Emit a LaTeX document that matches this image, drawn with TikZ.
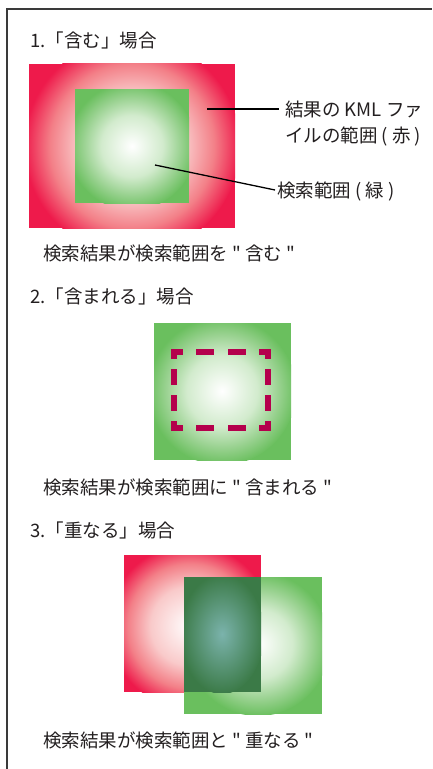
\documentclass[tikz,border=0pt]{standalone}
\usepackage{fontspec}
\setmainfont{Noto Sans CJK JP}[Ligatures=TeXOff]
\definecolor{kmlred}{HTML}{EE1A4B}
\definecolor{srchgreen}{HTML}{6ABF5E}
\definecolor{dashmag}{HTML}{B4004C}
\definecolor{ovdark}{HTML}{3B7A47}
\definecolor{ovlight}{HTML}{7BB3AC}
\definecolor{inktext}{HTML}{231F20}
\definecolor{framegray}{HTML}{3A3A3A}
\definecolor{pinkA}{HTML}{F9CACA}
\definecolor{pinkB}{HTML}{F38088}
\definecolor{greenA}{HTML}{D2EBCD}
\definecolor{greenB}{HTML}{9AD291}
\pgfdeclareradialshading{redglow}{\pgfpointorigin}{color(0bp)=(white); color(12bp)=(pinkA); color(19bp)=(pinkB); color(25bp)=(kmlred); color(50bp)=(kmlred)}
\pgfdeclareradialshading{greenglow}{\pgfpointorigin}{color(0bp)=(white); color(12bp)=(greenA); color(19bp)=(greenB); color(25bp)=(srchgreen); color(50bp)=(srchgreen)}
\pgfdeclareradialshading{ovglow}{\pgfpointorigin}{color(0bp)=(ovlight); color(25bp)=(ovdark); color(50bp)=(ovdark)}
\begin{document}
\begin{tikzpicture}[x=1bp,y=-1bp,
  txt/.style={font=\fontsize{18.5bp}{27bp}\selectfont, text=inktext, inner sep=0pt, anchor=west},
  leader/.style={draw=black, line width=1.3bp},
  dashseg/.style={draw=dashmag, line width=5.5bp, line cap=butt, line join=miter}]
\useasboundingbox (0,0) rectangle (432,769);
\fill[white] (0,0) rectangle (432,769);
\draw[framegray, line width=2bp] (7,769) -- (7,9) -- (432,9);

% ---- Section 1
\node[txt] (t1) at (30,40) {1.「含む」場合};
\begin{scope}
  \clip (29,64) rectangle (235,228);
  \fill[kmlred] (29,64) rectangle (235,228);
  \shade[shading=redglow] (132,146) circle (108);
\end{scope}
\begin{scope}
  \clip (75,89) rectangle (189,203);
  \fill[srchgreen] (75,89) rectangle (189,203);
  \shade[shading=greenglow] (132,146) circle (64);
\end{scope}
\node[txt] (l1a) at (285,109) {結果の KML ファ};
\node[txt] (l1b) at (285,136) {イルの範囲 ( 赤 )};
\node[txt] (l2) at (277,191) {検索範囲 ( 緑 )};
\coordinate (p1) at (207,109);
\coordinate (q1) at (279,109);
\coordinate (p2) at (155,165);
\coordinate (q2) at (275,190);
\draw[leader] (p1) -- (q1);
\draw[leader] (p2) -- (q2);
\node[txt] (c1) at (43,253) {検索結果が検索範囲を " 含む "};

% ---- Section 2
\node[txt] (t2) at (30,296) {2.「含まれる」場合};
\begin{scope}
  \clip (154,323) rectangle (291,460);
  \fill[srchgreen] (154,323) rectangle (291,460);
  \shade[shading=greenglow] (222,391) circle (74);
\end{scope}
\draw[dashseg] (174,359) -- (174,352) -- (183,352);
\draw[dashseg] (196,352) -- (214,352);
\draw[dashseg] (228,352) -- (246,352);
\draw[dashseg] (259,352) -- (268,352) -- (268,359);
\draw[dashseg] (174,369) -- (174,385);
\draw[dashseg] (174,395) -- (174,411);
\draw[dashseg] (268,369) -- (268,385);
\draw[dashseg] (268,395) -- (268,411);
\draw[dashseg] (174,421) -- (174,428) -- (183,428);
\draw[dashseg] (196,428) -- (214,428);
\draw[dashseg] (228,428) -- (246,428);
\draw[dashseg] (259,428) -- (268,428) -- (268,421);
\node[txt] (c2) at (43,487) {検索結果が検索範囲に " 含まれる "};

% ---- Section 3
\node[txt] (t3) at (30,530) {3.「重なる」場合};
\begin{scope}
  \clip (124,555) rectangle (261,692);
  \fill[kmlred] (124,555) rectangle (261,692);
  \shade[shading=redglow] (190,626) circle (82);
\end{scope}
\begin{scope}
  \clip (184,577) rectangle (322,714);
  \fill[srchgreen] (184,577) rectangle (322,714);
  \shade[shading=greenglow] (258,644) circle (72);
\end{scope}
\begin{scope}
  \clip (184,577) rectangle (261,692);
  \fill[ovdark] (184,577) rectangle (261,692);
  \shade[shading=ovglow] (222,634) ellipse [x radius=42, y radius=60];
\end{scope}
\node[txt] (c3) at (43,740) {検索結果が検索範囲と " 重なる "};
\end{tikzpicture}
\end{document}
